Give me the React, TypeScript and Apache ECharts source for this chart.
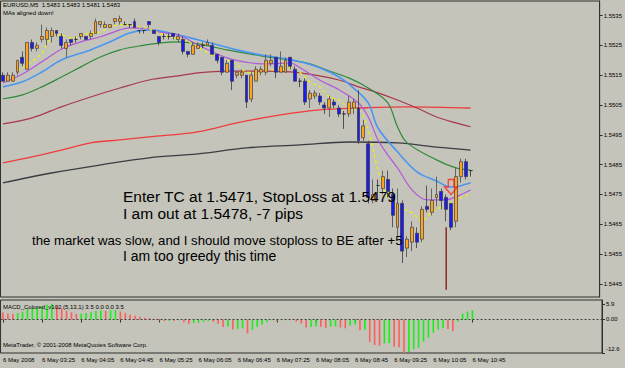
import React, { useEffect, useRef } from "react";
import * as echarts from "echarts";

// ---------- data ----------
const OPEN = [
  1.5515, 1.5513, 1.5513, 1.5516, 1.5521, 1.5517, 1.5526, 1.5524, 1.5527, 1.5527,
  1.5528, 1.5530, 1.5528, 1.5524, 1.5527, 1.5527, 1.5528, 1.5528, 1.5528, 1.5529,
  1.5532, 1.5531, 1.5531, 1.5533, 1.5533, 1.5532, 1.5532, 1.5533, 1.5530, 1.5530,
  1.5533, 1.5530, 1.5528, 1.5528, 1.5528, 1.5529, 1.5527, 1.5527, 1.5523, 1.5522,
  1.5524, 1.5525, 1.5525, 1.5525, 1.5522, 1.5521, 1.5516, 1.5520, 1.5515, 1.5515,
  1.5515, 1.5507, 1.5513, 1.5516, 1.5516, 1.5519, 1.5521, 1.5516, 1.5516, 1.5521,
  1.5517, 1.5513, 1.5513, 1.5507, 1.5508, 1.5508, 1.5505, 1.5504, 1.5506, 1.5504,
  1.5502, 1.5502, 1.5504, 1.5504, 1.5494, 1.5492, 1.5473, 1.5478, 1.5477, 1.5480,
  1.5475, 1.5464, 1.5472, 1.5457, 1.5459, 1.5462, 1.5460, 1.5471, 1.5469, 1.5474,
  1.5476, 1.5474, 1.5472, 1.5466, 1.5481, 1.5486, 1.5483,
];
const CLOSE = [
  1.5513, 1.5515, 1.5515, 1.5520, 1.5519, 1.5526, 1.5524, 1.5525, 1.5528, 1.5530,
  1.5530, 1.5529, 1.5525, 1.5526, 1.5526, 1.5527, 1.5529, 1.5527, 1.5529, 1.5533,
  1.5533, 1.5532, 1.5532, 1.5534, 1.5534, 1.5532, 1.5532, 1.5531, 1.5530, 1.5530,
  1.5532, 1.5529, 1.5526, 1.5528, 1.5528, 1.5528, 1.5528, 1.5523, 1.5522, 1.5525,
  1.5525, 1.5525, 1.5526, 1.5522, 1.5520, 1.5516, 1.5519, 1.5513, 1.5516, 1.5516,
  1.5506, 1.5515, 1.5517, 1.5517, 1.5520, 1.5520, 1.5516, 1.5518, 1.5520, 1.5518,
  1.5513, 1.5513, 1.5506, 1.5509, 1.5509, 1.5506, 1.5504, 1.5507, 1.5505, 1.5502,
  1.5502, 1.5506, 1.5506, 1.5493, 1.5498, 1.5474, 1.5475, 1.5478, 1.5481, 1.5476,
  1.5468, 1.5472, 1.5456, 1.5460, 1.5464, 1.5459, 1.5470, 1.5470, 1.5473, 1.5475,
  1.5473, 1.5470, 1.5464, 1.5481, 1.5486, 1.5481, 1.5483,
];
const LOW = [
  1.5513, 1.5513, 1.5513, 1.5515, 1.5518, 1.5517, 1.5523, 1.5523, 1.5526, 1.5525,
  1.5526, 1.5528, 1.5524, 1.5521, 1.5525, 1.5526, 1.5527, 1.5527, 1.5527, 1.5529,
  1.5531, 1.5531, 1.5531, 1.5532, 1.5532, 1.5532, 1.5531, 1.5531, 1.5529, 1.5529,
  1.5531, 1.5529, 1.5525, 1.5527, 1.5527, 1.5527, 1.5526, 1.5522, 1.5521, 1.5522,
  1.5524, 1.5524, 1.5525, 1.5522, 1.5519, 1.5515, 1.5516, 1.5510, 1.5514, 1.5514,
  1.5504, 1.5506, 1.5513, 1.5515, 1.5515, 1.5518, 1.5514, 1.5516, 1.5516, 1.5517,
  1.5513, 1.5511, 1.5505, 1.5504, 1.5507, 1.5505, 1.5502, 1.5501, 1.5504, 1.5501,
  1.5497, 1.5501, 1.5502, 1.5492, 1.5493, 1.5472, 1.5472, 1.5473, 1.5475, 1.5474,
  1.5464, 1.5461, 1.5452, 1.5454, 1.5456, 1.5457, 1.5459, 1.5469, 1.5468, 1.5471,
  1.5470, 1.5466, 1.5463, 1.5464, 1.5479, 1.5480, 1.5481,
];
const HIGH = [
  1.5516, 1.5516, 1.5516, 1.5520, 1.5523, 1.5526, 1.5527, 1.5526, 1.5532, 1.5531,
  1.5531, 1.5530, 1.5529, 1.5527, 1.5527, 1.5528, 1.5529, 1.5528, 1.5530, 1.5534,
  1.5533, 1.5533, 1.5532, 1.5534, 1.5535, 1.5533, 1.5532, 1.5534, 1.5530, 1.5530,
  1.5533, 1.5530, 1.5528, 1.5529, 1.5529, 1.5529, 1.5529, 1.5528, 1.5523, 1.5526,
  1.5526, 1.5526, 1.5527, 1.5526, 1.5522, 1.5521, 1.5520, 1.5520, 1.5516, 1.5517,
  1.5515, 1.5516, 1.5518, 1.5518, 1.5522, 1.5522, 1.5521, 1.5523, 1.5521, 1.5521,
  1.5518, 1.5514, 1.5514, 1.5510, 1.5510, 1.5509, 1.5506, 1.5508, 1.5507, 1.5505,
  1.5503, 1.5508, 1.5507, 1.5510, 1.5500, 1.5493, 1.5480, 1.5480, 1.5483, 1.5483,
  1.5477, 1.5477, 1.5473, 1.5461, 1.5466, 1.5464, 1.5471, 1.5478, 1.5477, 1.5481,
  1.5477, 1.5475, 1.5472, 1.5484, 1.5487, 1.5487, 1.5483,
];

const MACD = [
  2.6, 2.3, 2.0, 2.4, 2.9, 3.9, 4.3, 4.6, 5.0, 5.5,
  5.9, 5.1, 4.2, 3.3, 2.7, 2.1, 2.2, 2.4, 2.7, 3.2,
  3.4, 3.3, 3.5, 3.6, 3.0, 2.4, 1.8, 1.4, 1.0, 0.7,
  0.5, 0.3, -0.4, -0.6, -0.5, -0.5, -0.3, -1.0, -1.6, -1.3,
  -1.0, -0.8, -0.5, -0.9, -1.6, -2.8, -2.6, -3.8, -3.6, -3.3,
  -5.2, -4.0, -2.8, -2.0, -1.0, -0.3, -0.6, -0.3, 0.2, 0.1,
  -0.8, -1.5, -3.0, -2.8, -2.6, -2.7, -3.2, -2.7, -2.6, -3.0,
  -3.3, -2.3, -1.9, -4.0, -3.9, -8.5, -9.6, -9.9, -9.0, -8.9,
  -10.2, -10.4, -12.6, -12.2, -11.2, -10.6, -8.3, -6.9, -5.0, -3.8,
  -3.2, -3.6, -4.3, -0.8, 2.2, 3.0, 3.5,
];

// moving averages read at sample bars: [bar index, price]
const MA_YELLOW = [
  [3, 1.55168], [5, 1.55185], [8, 1.55225], [10, 1.55279], [12, 1.55285], [14, 1.55275],
  [16, 1.55282], [18, 1.55292], [20, 1.55295], [22, 1.55312], [24, 1.55319], [26, 1.55319],
  [28, 1.55312], [30, 1.55305], [34, 1.55279], [38, 1.55262], [42, 1.55225], [44, 1.55208],
  [46, 1.55201], [48, 1.55185], [50, 1.55161], [53, 1.55158], [55, 1.55168], [57, 1.55168],
  [59, 1.55175], [61, 1.55158], [63, 1.55128], [65, 1.55111], [67, 1.55077], [69, 1.55067],
  [71, 1.5504], [73, 1.55034], [75, 1.54966], [77, 1.54832], [79, 1.54738], [81, 1.54711],
  [84, 1.54688], [86, 1.54661], [88, 1.54691], [91, 1.54715], [93, 1.54732], [95, 1.54745],
  [96, 1.54752],
];
const MA_VIOLET = [
  [0, 1.55124], [4, 1.55154], [8, 1.55195], [11, 1.55228], [13, 1.55245], [16, 1.55262],
  [20, 1.55279], [24, 1.55302], [26, 1.55309], [30, 1.55305], [32, 1.55295], [36, 1.55285],
  [40, 1.55252], [46, 1.55208], [51, 1.55191], [55, 1.55188], [59, 1.55191], [61, 1.55175],
  [65, 1.55134], [69, 1.55101], [73, 1.55057], [75, 1.5501], [77, 1.54933], [79, 1.54883],
  [81, 1.54839], [84, 1.54765], [87, 1.54732], [91, 1.54732], [93, 1.54742], [96, 1.54765],
];
const MA_BLUE = [
  [0, 1.55111], [4, 1.55128], [8, 1.55161], [12, 1.55201], [18, 1.55235], [22, 1.55262],
  [26, 1.55292], [30, 1.55302], [36, 1.55285], [40, 1.55269], [44, 1.55252], [48, 1.55235],
  [53, 1.55218], [57, 1.55208], [61, 1.55195], [65, 1.55175], [69, 1.55144], [72, 1.55107],
  [75, 1.55057], [77, 1.54973], [81, 1.54893], [85, 1.54826], [89, 1.54795], [92, 1.54775],
  [94, 1.54779], [96, 1.54789],
];
const MA_GREEN = [
  [0, 1.55071], [4, 1.55084], [8, 1.55111], [12, 1.55144], [16, 1.55178], [20, 1.55211],
  [24, 1.55235], [28, 1.55248], [32, 1.55258], [36, 1.55262], [40, 1.55255], [46, 1.55235],
  [53, 1.55215], [59, 1.55201], [63, 1.55188], [67, 1.55164], [71, 1.55141], [75, 1.55107],
  [79, 1.55057], [81, 1.54977], [83, 1.54923], [89, 1.54866], [93, 1.54839], [96, 1.54832],
];
const MA_MAROON = [
  [0, 1.54987], [6, 1.55007], [12, 1.55044], [18, 1.55077], [24, 1.55107], [30, 1.55134],
  [36, 1.55148], [40, 1.55158], [46, 1.55164], [53, 1.55164], [59, 1.55161], [65, 1.55148],
  [69, 1.55134], [73, 1.55111], [77, 1.55091], [81, 1.55067], [85, 1.5504], [89, 1.5501],
  [93, 1.5499], [96, 1.54977],
];
const MA_RED = [
  [0, 1.54856], [6, 1.54876], [12, 1.54899], [18, 1.54923], [24, 1.54933], [30, 1.54943],
  [40, 1.5496], [48, 1.5499], [57, 1.55017], [65, 1.55034], [73, 1.5504], [83, 1.55044],
  [96, 1.5504],
];
const MA_GRAY = [
  [0, 1.54789], [10, 1.54822], [20, 1.54849], [30, 1.54873], [40, 1.54886], [50, 1.54906],
  [61, 1.54916], [71, 1.54926], [81, 1.54923], [89, 1.54909], [96, 1.54899],
];

const SPIKE = [[91, 1.5464], [91, 1.5443]];
const SELL_ARROW = [[92, 1.5475]];
const LAST_PRICE = 1.5483;

const PRICE_TICKS = [1.5445, 1.5455, 1.5465, 1.5475, 1.5485, 1.5495, 1.5505, 1.5515, 1.5525, 1.5535];
const MACD_TICKS = [5.9, 0, -12.6];
const TIME_TICKS = [
  "6 May 2008", "6 May 03:25", "6 May 04:05", "6 May 04:45", "6 May 05:25", "6 May 06:05",
  "6 May 06:45", "6 May 07:25", "6 May 08:05", "6 May 08:45", "6 May 09:25", "6 May 10:05",
  "6 May 10:45",
];
const TICK_EVERY = 8;
const N_SLOTS = 123;
const START_MIN = 2 * 60 + 45;
const CATEGORIES = Array.from({ length: N_SLOTS }, (_, i) => {
  const m = START_MIN + 5 * i;
  const h = Math.floor(m / 60) % 24;
  const mm = m % 60;
  return `${String(h).padStart(2, "0")}:${String(mm).padStart(2, "0")}`;
});

const FONT = "Liberation Sans";

export default function App() {
  const ref = useRef<HTMLDivElement>(null);
  useEffect(() => {
    if (!ref.current) return;
    const chart = echarts.init(ref.current, undefined, { renderer: "svg" });
    const candles = OPEN.map((o, i) => [o, CLOSE[i], LOW[i], HIGH[i]]);
    const maLine = (name: string, data: number[][], color: string, width: number, dashed = false) => ({
      name,
      type: "line",
      xAxisIndex: 0,
      yAxisIndex: 0,
      data,
      smooth: 0.35,
      symbol: "none",
      silent: true,
      lineStyle: { color, width, type: dashed ? [3, 3] : "solid" },
      z: 2,
    });
    const smallText = (text: string, x: number, y: number) => ({
      type: "text",
      x,
      y,
      silent: true,
      z: 100,
      style: { text, fill: "#000", fontSize: 6, fontFamily: FONT, textVerticalAlign: "middle", verticalAlign: "middle" },
    });
    const bigText = (text: string, x: number, y: number, size: number) => ({
      type: "text",
      x,
      y,
      silent: true,
      z: 100,
      style: { text, fill: "#000", fontSize: size, fontFamily: FONT, textVerticalAlign: "middle", verticalAlign: "middle" },
    });

    const option: any = {
      animation: false,
      backgroundColor: "#c4c4ba",
      grid: [
        { left: 0.5, top: 1, width: 601.5, height: 296, show: true, borderColor: "#303030", borderWidth: 1, backgroundColor: "transparent" },
        { left: 0.5, top: 300, width: 601.5, height: 53, show: true, borderColor: "#303030", borderWidth: 1, backgroundColor: "transparent" },
      ],
      xAxis: [
        {
          type: "category",
          gridIndex: 0,
          data: CATEGORIES,
          boundaryGap: true,
          axisLine: { show: false },
          axisTick: { show: false },
          axisLabel: { show: false },
          splitLine: { show: false },
        },
        {
          type: "category",
          gridIndex: 1,
          data: CATEGORIES,
          boundaryGap: true,
          axisLine: { show: false },
          axisTick: {
            show: true,
            alignWithLabel: true,
            length: 3,
            interval: (idx: number) => idx % TICK_EVERY === 0 && idx / TICK_EVERY < TIME_TICKS.length,
            lineStyle: { color: "#303030" },
          },
          axisLabel: {
            show: true,
            interval: (idx: number) => idx % TICK_EVERY === 0 && idx / TICK_EVERY < TIME_TICKS.length,
            formatter: (_v: string, idx: number) => TIME_TICKS[idx / TICK_EVERY] ?? "",
            align: "left",
            margin: 4,
            fontSize: 6,
            fontFamily: FONT,
            color: "#000",
          },
          splitLine: { show: false },
        },
      ],
      yAxis: [
        {
          type: "value",
          gridIndex: 0,
          position: "right",
          min: 1.54406,
          max: 1.55399,
          scale: true,
          splitLine: { show: false },
          axisLine: { show: true, lineStyle: { color: "#303030" } },
          axisTick: { show: true, length: 3, customValues: PRICE_TICKS, lineStyle: { color: "#303030" } },
          axisLabel: {
            customValues: PRICE_TICKS,
            formatter: (v: number) => v.toFixed(4),
            fontSize: 6,
            fontFamily: FONT,
            color: "#000",
            margin: 4,
          },
        },
        {
          type: "value",
          gridIndex: 1,
          position: "right",
          min: -12.6,
          max: 7.33,
          splitLine: { show: false },
          axisLine: { show: true, lineStyle: { color: "#303030" } },
          axisTick: { show: true, length: 3, customValues: MACD_TICKS, lineStyle: { color: "#303030" } },
          axisLabel: {
            customValues: MACD_TICKS,
            formatter: (v: number) => (v === 0 ? "0.00" : v < -12 ? `{lo|${v.toFixed(1)}}` : v.toFixed(1)),
            rich: { lo: { padding: [0, 0, 8, 0], fontSize: 6, fontFamily: FONT, color: "#000" } },
            fontSize: 6,
            fontFamily: FONT,
            color: "#000",
            margin: 4,
          },
        },
      ],
      series: [
        maLine("gray", MA_GRAY, "#3c3c44", 1.3),
        maLine("red", MA_RED, "#f03c3c", 1.3),
        maLine("maroon", MA_MAROON, "#a8384c", 1.2),
        maLine("green", MA_GREEN, "#2f8a3a", 1.2),
        maLine("blue", MA_BLUE, "#4a96f2", 1.6),
        maLine("violet", MA_VIOLET, "#b058dc", 1.2),
        maLine("yellow", MA_YELLOW, "#f2f200", 1.2, true),
        {
          name: "spike",
          type: "line",
          xAxisIndex: 0,
          yAxisIndex: 0,
          data: SPIKE,
          symbol: "none",
          silent: true,
          lineStyle: { color: "#8c1c1c", width: 1.4 },
          z: 3,
        },
        {
          name: "EURUSD",
          type: "candlestick",
          xAxisIndex: 0,
          yAxisIndex: 0,
          data: candles,
          barWidth: 3.4,
          silent: true,
          z: 4,
          itemStyle: {
            color: "#ffa21e",
            color0: "#1c1cf0",
            borderColor: "#4c4c4c",
            borderColor0: "#3a3a4c",
            borderColorDoji: "#303030",
            borderWidth: 0.8,
          },
          markLine: {
            silent: true,
            symbol: ["none", "none"],
            lineStyle: { opacity: 0 },
            data: [{ yAxis: LAST_PRICE }],
            label: {
              show: true,
              position: "end",
              distance: 2,
              formatter: () => LAST_PRICE.toFixed(4),
              backgroundColor: "#000",
              color: "#fff",
              padding: [1, 2],
              fontSize: 6,
              fontFamily: FONT,
            },
          },
        },
        {
          name: "sell",
          type: "scatter",
          xAxisIndex: 0,
          yAxisIndex: 0,
          data: SELL_ARROW,
          symbol: "path://M4,0 L10,0 L10,8 L14,8 L7,16 L0,8 L4,8 Z",
          symbolSize: [13, 15],
          symbolOffset: [0, -7.5],
          silent: true,
          z: 6,
          itemStyle: { color: "rgba(0,0,0,0)", borderColor: "#ff2020", borderWidth: 1.4 },
        },
        {
          name: "MACD",
          type: "bar",
          xAxisIndex: 1,
          yAxisIndex: 1,
          data: MACD,
          barWidth: 1.6,
          silent: true,
          itemStyle: {
            color: (p: any) => {
              const i = p.dataIndex;
              return i > 0 && MACD[i] > MACD[i - 1] ? "#18f018" : "#ff5c5c";
            },
          },
          markLine: {
            silent: true,
            symbol: ["none", "none"],
            label: { show: false },
            lineStyle: { color: "#404040", width: 1, type: [2, 2] },
            data: [{ yAxis: 0 }],
          },
        },
      ],
      graphic: [
        smallText("EURUSD,M5  1.5483 1.5483 1.5481 1.5483", 3, 5),
        smallText("MAs aligned down!", 3, 13),
        smallText("MACD_Colored_v102 (5,13,1) 3.5 0.0 0.0 3.5", 3, 307),
        smallText("MetaTrader, © 2001-2008 MetaQuotes Software Corp.", 3, 345),
        bigText("Enter TC at 1.5471, StopLoss at 1.5479", 123, 196, 15.5),
        bigText("I am out at 1.5478, -7 pips", 123, 213, 15.5),
        bigText("the market was slow, and I should move stoploss to BE after +5", 32, 240, 13.2),
        bigText("I am too greedy this time", 123, 256, 14),
      ],
    };
    chart.setOption(option);
    return () => chart.dispose();
  }, []);
  return (
    <div
      ref={ref}
      style={{ position: "absolute", left: 0, top: 0, width: 625, height: 368, background: "#c4c4ba" }}
    />
  );
}
